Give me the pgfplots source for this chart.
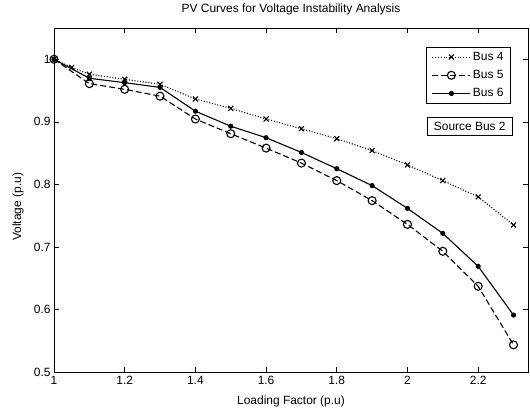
\documentclass[border=0pt]{standalone}
\usepackage{fontspec}
\setmainfont{Liberation Sans}
\usepackage{pgfplots}
\pgfplotsset{compat=1.18}
\begin{document}
\begin{tikzpicture}
\path[use as bounding box] (-54bp,-40bp) rectangle (476bp,372bp);
\begin{axis}[
  at={(0,0)}, anchor=south west,
  scale only axis, width=474bp, height=344bp,
  xmin=1, xmax=2.341, ymin=0.5, ymax=1.05,
  xtick={1,1.2,1.4,1.6,1.8,2,2.2},
  ytick={0.5,0.6,0.7,0.8,0.9,1},
  tick align=inside, major tick length=5bp,
  /pgf/number format/assume math mode=true,
  tick label style={font=\fontsize{12}{14}\selectfont},
  xticklabel style={anchor=base, yshift=-12bp},
  title style={font=\fontsize{12}{14}\selectfont, at={([yshift=9.4bp]axis description cs:0.5,1)}, anchor=base},
  title={PV Curves for Voltage Instability Analysis},
  xlabel={Loading Factor (p.u)},
  ylabel={Voltage (p.u)},
  xlabel style={font=\fontsize{12}{14}\selectfont, at={([yshift=-32bp]axis description cs:0.5,0)}, anchor=base},
  ylabel style={font=\fontsize{12}{14}\selectfont, at={([xshift=-36bp]axis description cs:0,0.48)}, anchor=center},
  axis line style={line width=1pt},
  every tick/.style={black, line width=0.6pt},
  legend style={at={([xshift=-17bp, yshift=-18.7bp]axis description cs:1,1)}, anchor=north east,
    font=\fontsize{12}{14}\selectfont, draw=black, line width=1pt,
    inner xsep=5bp, inner ysep=3bp, row sep=4.5bp},
  legend cell align=left,
  legend image code/.code={\draw[mark repeat=2, mark phase=2, #1] plot coordinates {(0bp,0bp) (19bp,0bp) (38bp,0bp)};},
]
\addplot[black, line width=1.1pt, dash pattern=on 1bp off 1.8bp, mark=x, mark size=3.5bp, mark options={solid, line width=1.1pt}]
coordinates {(1,1.0) (1.05,0.987) (1.1,0.976) (1.2,0.968) (1.3,0.960) (1.4,0.9365) (1.5,0.9216) (1.6,0.9045) (1.7,0.889) (1.8,0.873) (1.9,0.854) (2.0,0.831) (2.1,0.806) (2.2,0.780) (2.3,0.735)};
\addlegendentry{Bus 4}
\addplot[black, line width=1.1pt, dash pattern=on 6bp off 3bp, mark=o, mark size=4bp, mark options={solid, line width=1.1pt}]
coordinates {(1,1.0) (1.1,0.961) (1.2,0.952) (1.3,0.941) (1.4,0.9045) (1.5,0.881) (1.6,0.858) (1.7,0.834) (1.8,0.806) (1.9,0.774) (2.0,0.736) (2.1,0.693) (2.2,0.637) (2.3,0.5434)};
\addlegendentry{Bus 5}
\addplot[black, line width=1.1pt, solid, mark=*, mark size=2bp]
coordinates {(1,1.0) (1.1,0.9696) (1.2,0.9626) (1.3,0.955) (1.4,0.917) (1.5,0.893) (1.6,0.8746) (1.7,0.851) (1.8,0.825) (1.9,0.798) (2.0,0.7616) (2.1,0.7216) (2.2,0.669) (2.3,0.591)};
\addlegendentry{Bus 6}
\node[draw=black, line width=0.7pt, anchor=north east, font=\fontsize{12}{14}\selectfont, inner xsep=7bp, inner ysep=5bp]
  at ([xshift=-15bp, yshift=-89bp]axis description cs:1,1) {Source Bus 2};
\end{axis}
\end{tikzpicture}
\end{document}
